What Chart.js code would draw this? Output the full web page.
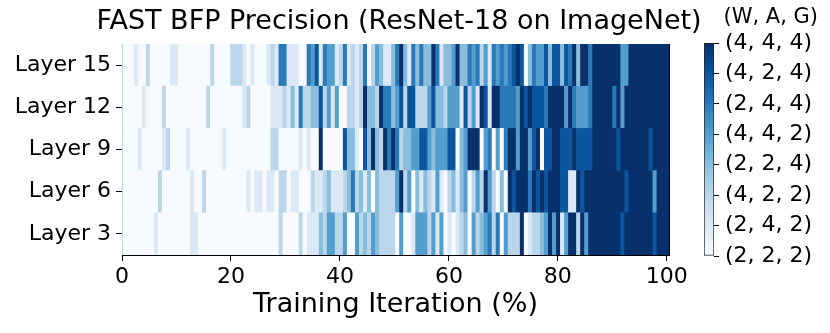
<!DOCTYPE html>
<html>
<head>
<meta charset="utf-8">
<script src="https://cdn.jsdelivr.net/npm/chart.js@4.4.0/dist/chart.umd.min.js"></script>
<style>
  html, body { margin: 0; padding: 0; background: #fff; }
  #wrap { position: relative; width: 830px; height: 333px; }
  #heat { position: absolute; left: 0; top: 0; }
  #bar { position: absolute; left: 700px; top: 0; }
</style>
</head>
<body>
<div id="wrap">
  <canvas id="heat" width="830" height="333"></canvas>
  <canvas id="bar" width="130" height="333"></canvas>
</div>
<script>
// rows top to bottom, one precision level (0..7) per sampled training step
const layerLabels = ['Layer 15', 'Layer 12', 'Layer 9', 'Layer 6', 'Layer 3'];
const levelLabels = ['(2, 2, 2)', '(2, 4, 2)', '(4, 2, 2)', '(2, 2, 4)', '(4, 4, 2)', '(2, 4, 4)', '(4, 2, 4)', '(4, 4, 4)'];
const xTickValues = [0, 20, 40, 60, 80, 100];
const xMax = 100.4;

const layer15 = [
  0,0,0,1,0,0,2,0,0,0, 0,0,1,1,0,0,0,0,0,0, 0,0,2,0,0,0,0,2,2,2, 1,0,1,0,0,0,1,2,1,5,
  5,1,1,1,0,0,5,4,6,1, 5,4,4,1,2,5,1,2,1,2, 5,0,2,4,3,1,1,3,5,7, 3,1,5,3,5,3,3,7,5,1,
  3,3,4,7,3,3,5,4,5,2, 4,1,5,4,5,4,5,6,7,6, 0,3,5,4,4,6,3,6,6,3, 6,5,7,3,7,7,5,7,7,7,
  7,7,7,7,4,4,7,7,7,7, 7,7,7,7,7,7
];
const layer12 = [
  0,0,0,0,0,1,0,0,0,0, 2,0,0,0,0,0,0,0,0,0, 0,2,0,0,0,0,0,0,0,0, 1,2,0,0,0,0,0,1,1,1,
  2,1,3,1,5,2,2,3,3,6, 2,4,1,4,0,0,2,2,1,2, 7,3,3,2,7,5,5,3,4,6, 2,6,6,2,2,2,4,6,3,3,
  2,4,4,4,1,6,2,4,1,7, 6,1,7,7,5,5,5,5,4,7, 6,7,6,6,6,5,7,7,7,7, 4,7,5,4,4,4,5,7,7,7,
  7,7,5,7,4,7,7,7,7,7, 7,7,7,7,7,7
];
const layer9 = [
  0,0,0,0,1,0,0,0,0,0, 1,2,0,0,0,0,1,0,0,0, 0,0,0,0,0,1,0,0,0,0, 0,0,0,0,0,0,0,2,2,0,
  0,0,0,0,1,0,1,0,0,7, 0,0,0,0,0,6,3,3,1,0, 6,3,7,3,2,7,5,7,5,2, 3,3,4,4,6,6,4,3,4,4,
  4,6,6,0,3,4,7,7,7,0, 4,5,0,4,0,5,7,7,4,7, 7,4,6,7,0,6,6,7,7,6, 6,6,7,6,6,6,6,7,7,7,
  7,7,7,6,7,7,7,7,7,7, 7,6,7,7,7,7
];
const layer6 = [
  0,0,0,0,0,0,0,0,0,2, 0,0,0,0,0,0,0,1,0,0, 2,0,0,0,0,0,0,0,0,0, 0,1,0,1,1,0,1,1,0,2,
  2,0,1,1,0,0,0,2,1,1, 2,3,1,1,1,2,3,5,2,3, 1,3,0,3,2,2,2,2,4,7, 2,4,0,3,1,3,2,1,4,1,
  0,2,3,1,3,4,0,2,4,2, 7,4,2,0,3,0,7,6,7,7, 7,5,7,6,7,6,7,7,7,6, 6,1,1,7,6,7,7,7,7,7,
  7,7,7,7,7,6,7,7,7,7, 7,7,4,7,7,7
];
const layer3 = [
  0,0,0,0,0,0,0,0,1,0, 0,0,0,0,0,0,0,1,1,0, 0,0,0,0,0,0,0,0,0,0, 0,0,0,0,0,0,0,0,0,2,
  0,0,0,0,2,0,1,1,1,3, 2,4,4,2,2,4,0,0,4,2, 3,2,4,3,2,2,2,2,0,4, 0,0,1,4,4,4,2,4,1,4,
  0,1,0,1,2,3,0,4,2,3, 4,5,2,5,0,4,2,2,2,7, 0,1,2,2,3,4,7,4,7,1, 4,7,7,2,7,4,7,7,7,7,
  7,7,7,7,6,7,7,7,7,7, 7,7,6,7,7,7
];

// matplotlib "Blues"
const blues = ['#f7fbff', '#deebf7', '#c6dbef', '#9ecae1', '#6baed6', '#4292c6', '#2171b5', '#08519c', '#08306b'];

function hexToRgb(h) {
  return [1, 3, 5].map(i => parseInt(h.slice(i, i + 2), 16));
}
function levelColor(v) {
  const t = v / (levelLabels.length - 1) * (blues.length - 1);
  const i = Math.min(Math.floor(t), blues.length - 2);
  const f = t - i;
  const a = hexToRgb(blues[i]), b = hexToRgb(blues[i + 1]);
  return 'rgb(' + a.map((x, k) => Math.round(x + (b[k] - x) * f)).join(',') + ')';
}

// merge equal neighbours into one floating bar per run
const rows = [layer15, layer12, layer9, layer6, layer3];
const cells = [];
rows.forEach((row, r) => {
  const w = xMax / row.length;
  let start = 0;
  for (let c = 1; c <= row.length; c++) {
    if (c === row.length || row[c] !== row[start]) {
      cells.push({x: [start * w, c * w], y: layerLabels[r], v: row[start]});
      start = c;
    }
  }
});

Chart.defaults.font.family = 'DejaVu Sans';
Chart.defaults.color = '#000';

const tickFont = {size: 22};

new Chart(document.getElementById('heat').getContext('2d'), {
  type: 'bar',
  data: {
    labels: layerLabels,
    datasets: [{
      data: cells,
      backgroundColor: ctx => ctx.raw ? levelColor(ctx.raw.v) : blues[0],
      borderWidth: 0,
      barPercentage: 1,
      categoryPercentage: 1,
      grouped: false
    }]
  },
  options: {
    indexAxis: 'y',
    responsive: false,
    animation: false,
    devicePixelRatio: 1,
    layout: {padding: {left: 0, right: 32, top: 0, bottom: 0}},
    plugins: {
      legend: {display: false},
      tooltip: {enabled: false},
      title: {
        display: true,
        text: 'FAST BFP Precision (ResNet-18 on ImageNet)',
        font: {size: 27, weight: 'normal', lineHeight: 1.2},
        color: '#000',
        padding: {top: 6, bottom: 5.6}
      }
    },
    scales: {
      x: {
        type: 'linear',
        position: 'bottom',
        min: 0,
        max: xMax,
        afterBuildTicks: s => { s.ticks = xTickValues.map(v => ({value: v})); },
        afterFit: s => { s.height = 78; },
        ticks: {font: tickFont, color: '#000', padding: 3, maxRotation: 0, autoSkip: false},
        grid: {drawOnChartArea: false, drawTicks: true, tickLength: 6, tickColor: '#000'},
        border: {color: '#000', width: 1},
        title: {
          display: true,
          text: 'Training Iteration (%)',
          font: {size: 27, lineHeight: 1.2},
          color: '#000',
          padding: {top: 0, bottom: 12}
        }
      },
      y: {
        type: 'category',
        position: 'left',
        offset: true,
        afterFit: s => { s.width = 122; },
        ticks: {font: tickFont, color: '#000', padding: 5},
        grid: {offset: false, drawOnChartArea: false, drawTicks: true, tickLength: 6, tickColor: '#000'},
        border: {color: '#000', width: 1}
      },
      x2: {
        type: 'linear',
        position: 'top',
        afterFit: s => { s.height = 0; },
        ticks: {display: false},
        grid: {display: false},
        border: {color: '#000', width: 1}
      },
      y2: {
        type: 'linear',
        position: 'right',
        afterFit: s => { s.width = 129; },
        ticks: {display: false},
        grid: {display: false},
        border: {color: '#000', width: 1}
      }
    }
  }
});

// colour bar
new Chart(document.getElementById('bar').getContext('2d'), {
  type: 'bar',
  data: {
    labels: [''],
    datasets: [{
      data: [[0, levelLabels.length - 1]],
      backgroundColor: ctx => {
        const a = ctx.chart.chartArea;
        if (!a) return blues[0];
        const g = ctx.chart.ctx.createLinearGradient(0, a.bottom, 0, a.top);
        blues.forEach((c, i) => g.addColorStop(i / (blues.length - 1), c));
        return g;
      },
      borderColor: '#222',
      borderWidth: 1,
      borderSkipped: false,
      barPercentage: 1,
      categoryPercentage: 1
    }]
  },
  options: {
    responsive: false,
    animation: false,
    devicePixelRatio: 1,
    layout: {padding: {left: 4, right: 12, top: 0, bottom: 77}},
    plugins: {
      legend: {display: false},
      tooltip: {enabled: false},
      title: {
        display: true,
        text: '(W, A, G)',
        align: 'end',
        font: {size: 21, weight: 'normal', lineHeight: 1.2},
        color: '#000',
        padding: {top: 5, bottom: 12.8}
      }
    },
    scales: {
      x: {
        display: true,
        afterFit: s => { s.height = 0; },
        ticks: {display: false},
        grid: {display: false},
        border: {display: false}
      },
      y: {
        type: 'linear',
        position: 'right',
        min: 0,
        max: levelLabels.length - 1,
        afterBuildTicks: s => { s.ticks = levelLabels.map((_, i) => ({value: i})); },
        afterFit: s => { s.width = 104; },
        ticks: {font: tickFont, color: '#000', padding: 6, autoSkip: false, callback: v => levelLabels[v]},
        grid: {drawOnChartArea: false, drawTicks: true, tickLength: 5, tickColor: '#000'},
        border: {display: false}
      }
    }
  }
});
</script>
</body>
</html>
